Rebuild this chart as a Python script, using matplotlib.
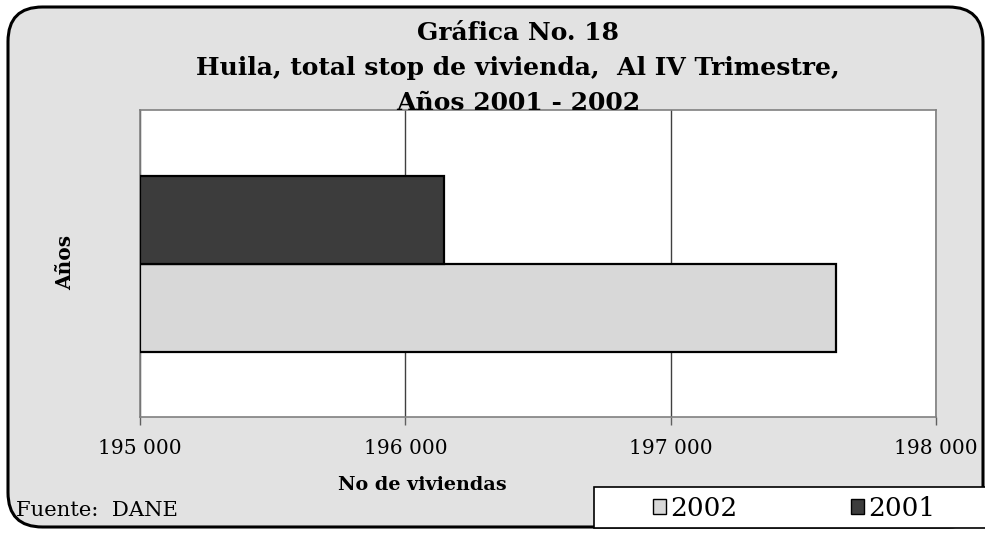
#!/usr/bin/env python
# -*- coding: utf-8 -*-
"""Gráfica No. 18 - Huila, total stock de vivienda."""

import matplotlib
matplotlib.use("Agg")
import matplotlib.pyplot as plt
from matplotlib.patches import FancyBboxPatch, Patch, Rectangle

# data
years = ["2002", "2001"]
viviendas = [197624, 196147]
bar_colors = ["#d8d8d8", "#3c3c3c"]
x_ticks = [195000, 196000, 197000, 198000]
x_tick_labels = ["195 000", "196 000", "197 000", "198 000"]

title_lines = [
    "Gráfica No. 18",
    "Huila, total stop de vivienda,  Al IV Trimestre,",
    "Años 2001 - 2002",
]

W, H = 985, 533
plt.rcParams["font.family"] = ["DejaVu Serif"]

fig = plt.figure(figsize=(W / 100, H / 100), dpi=100)
fig.patch.set_facecolor("white")

# rounded frame (behind everything)
frame = FancyBboxPatch(
    (8 / W, 6 / H), (975 / W), (520 / H),
    boxstyle="round,pad=0,rounding_size=0.035",
    transform=fig.transFigure, facecolor="#e2e2e2",
    edgecolor="black", linewidth=2.2, zorder=-5,
    mutation_aspect=W / H,
)
fig.patches.append(frame)

# plot area
ax = fig.add_axes([140 / W, (H - 417) / H, 796 / W, 307 / H], zorder=1)
ax.set_facecolor("white")

bar_h = 88 / 307
offsets = [-bar_h / 2, bar_h / 2]
for yr, val, col, off in zip(years, viviendas, bar_colors, offsets):
    ax.barh(off, val - x_ticks[0], left=x_ticks[0], height=bar_h,
            color=col, edgecolor="black", linewidth=1.6, zorder=3, label=yr)

ax.set_xlim(x_ticks[0], x_ticks[-1])
ax.set_ylim(-0.5, 0.5)
ax.set_xticks(x_ticks)
ax.set_xticklabels(x_tick_labels, fontsize=14.5)
ax.set_yticks([])
ax.tick_params(axis="x", direction="out", length=6, width=1,
               color="#606060", pad=10)
ax.grid(axis="x", color="#404040", linewidth=1, zorder=1)
for sp in ax.spines.values():
    sp.set_color("#808080")
    sp.set_linewidth(1.2)

# axis titles (placed like the original, not centred on the axes)
fig.text(422 / W, 1 - 485 / H, "No de viviendas", ha="center", va="center",
         fontsize=13.8, fontweight="bold")
fig.text(65 / W, 1 - 262 / H, "Años", ha="center", va="center",
         rotation=90, fontsize=14.5, fontweight="bold")

# title
for i, line in enumerate(title_lines):
    fig.text(518 / W, 1 - (33 + 35 * i) / H, line, ha="center", va="center",
             fontsize=18, fontweight="bold", zorder=5)

fig.text(16 / W, 1 - 511 / H, "Fuente:  DANE", ha="left", va="center",
         fontsize=15.2)

# legend box, clipped at the right by the image edge
fig.patches.append(Rectangle((594 / W, 5 / H), 400 / W, 41 / H,
                             transform=fig.transFigure, facecolor="white",
                             edgecolor="black", linewidth=1.2, zorder=2))
handles = [Patch(facecolor=c, edgecolor="black", linewidth=1) for c in bar_colors]
fig.legend(handles, years, loc="center",
           bbox_to_anchor=(794 / W, 1 - 508 / H), ncol=2, fontsize=19,
           frameon=False, handlelength=0.5, handleheight=0.5,
           handletextpad=0.15, columnspacing=4.3, borderaxespad=0)

fig.savefig("out.png", dpi=100)
